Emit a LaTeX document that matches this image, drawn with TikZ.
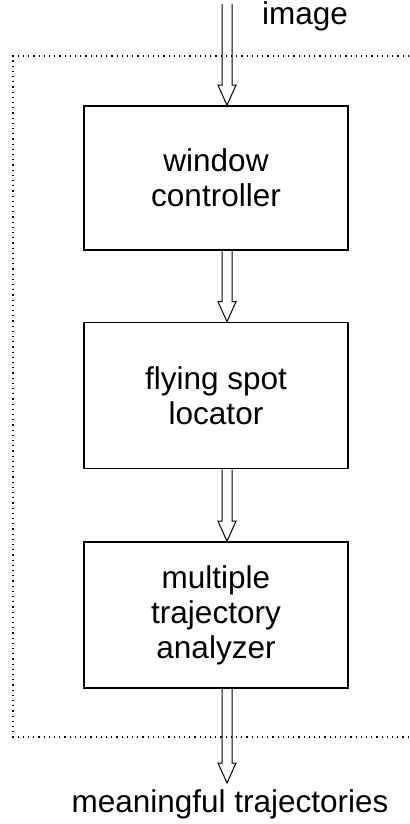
\documentclass[tikz,border=0pt]{standalone}
\usepackage{fontspec}
\setmainfont{Liberation Sans}
\usetikzlibrary{calc}

\begin{document}
\begin{tikzpicture}[x=0.5pt,y=-0.5pt]
        \tikzstyle{every node}=[font=\fontsize{15.75}{17.5}\selectfont]
        \tikzstyle{block}=[draw,line width=0.8pt,minimum width=132pt,minimum height=73pt,align=center,inner sep=0pt]
        \tikzstyle{hollow}=[line width=0.5pt,to path={let \p1=(\tikztostart),\p2=(\tikztotarget) in
            (\x1-2.5pt,\y1) -- (\x1-2.5pt,\y2+10pt) -- (\x1-4.5pt,\y2+10pt) -- (\x1,\y2)
            -- (\x1+4.5pt,\y2+10pt) -- (\x1+2.5pt,\y2+10pt) -- (\x1+2.5pt,\y1)}]
        \useasboundingbox (0,0) rectangle (409,824);
        \draw[dotted,line width=0.6pt] (409,56) -- (13,56) -- (13,737) -- (409,737);
        \node[block,minimum height=72pt] (win) at (216,178) {window\\controller};
        \node[block] (spot) at (216,395.5) {flying spot\\locator};
        \node[block] (multi) at (216,615) {multiple\\trajectory\\analyzer};
        \node[anchor=base west] (image) at (255,25) {image};
        \node[anchor=base] (traj) at (230,812) {meaningful trajectories};
        \coordinate (in) at (227,4);
        \coordinate (out) at (227,783);
        \draw[hollow] (in) to ($(win.north)+(11,0)$);
        \draw[hollow] ($(win.south)+(11,0)$) to ($(spot.north)+(11,0)$);
        \draw[hollow] ($(spot.south)+(11,0)$) to ($(multi.north)+(11,0)$);
        \draw[hollow] ($(multi.south)+(11,0)$) to (out);
\end{tikzpicture}
\end{document}
